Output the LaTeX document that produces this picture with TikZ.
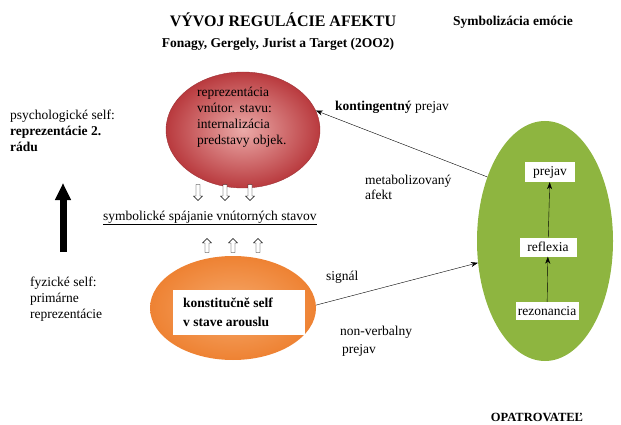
\documentclass[tikz,border=0pt]{standalone}
\usepackage{fontspec}
\setmainfont{LiberationSerif}[
    Extension=.ttf,
    UprightFont=*-Regular,
    BoldFont=*-Bold,
    ItalicFont=*-Italic,
    BoldItalicFont=*-BoldItalic]
\usepackage{xcolor}
\usetikzlibrary{arrows.meta, positioning, shapes.geometric, shapes.arrows}

\definecolor{redin}{HTML}{EBAAA8}
\definecolor{redout}{HTML}{B93A3E}
\definecolor{orangein}{HTML}{F6A86A}
\definecolor{orangeout}{HTML}{EE8233}
\definecolor{greenfill}{HTML}{8EB540}

\begin{document}
\begin{tikzpicture}[
    x=1pt, y=-1pt,
    txt/.style={anchor=west, align=left, inner sep=0pt, font=\fontsize{13.5}{16}\selectfont},
    heading/.style={inner sep=0pt, font=\bfseries\fontsize{13.5}{16}\selectfont},
    whitebox/.style={rectangle, fill=white, inner sep=0pt, font=\fontsize{13.5}{16}\selectfont},
    downarr/.style={single arrow, draw, thin, fill=white, shape border rotate=270, inner sep=1.8pt, single arrow head extend=2.5pt, minimum height=16pt},
    uparr/.style={downarr, shape border rotate=90, minimum height=14pt},
    arrow/.style={-{Stealth[length=7pt, width=5pt]}, thin},
]
\useasboundingbox (0,0) rectangle (621,425);

% Headings
\node[heading, font=\bfseries\fontsize{16}{18}\selectfont] (title) at (283,20) {VÝVOJ REGULÁCIE AFEKTU};
\node[heading] (authors) at (278,44) {Fonagy, Gergely, Jurist a Target (2OO2)};
\node[heading] (symb) at (513,22) {Symbolizácia emócie};
\node[heading, font=\bfseries\fontsize{12.5}{15}\selectfont] (carer) at (537,417) {OPATROVATEĽ};

% Ellipses
\node[ellipse, draw=redout!85!black, shading=radial, inner color=redin, outer color=redout, minimum width=154pt, minimum height=116pt] (mind) at (243,130) {};
\node[ellipse, shading=radial, inner color=orangein, outer color=orangeout, minimum width=166pt, minimum height=104pt] (body) at (233,308) {};
\node[ellipse, fill=greenfill, minimum width=136pt, minimum height=240pt] (carerell) at (545,241) {};

% Texts inside ellipses
\node[txt] (mindtxt) at (197,117.5) {reprezentácia\\vnútor. stavu:\\internalizácia\\predstavy objek.};
\node[whitebox, minimum width=132pt, minimum height=45pt] (bodybox) at (239,312) {};
\node[txt, font=\bfseries\fontsize{13.5}{19}\selectfont] (bodytxt) at (183,312) {konstitučně self\\v stave arouslu};

\node[whitebox, minimum width=50pt, minimum height=20pt] (prejav) at (550,172) {prejav};
\node[whitebox, minimum width=57pt, minimum height=19pt] (reflexia) at (548,247) {reflexia};
\node[whitebox, minimum width=63pt, minimum height=18pt] (rezonancia) at (547,311) {rezonancia};

% Side labels
\node[txt] (psych) at (10,131) {psychologické self:\\\textbf{reprezentácie 2.}\\\textbf{rádu}};
\node[txt] (fyz) at (30,299) {fyzické self:\\primárne\\reprezentácie};
\node[txt] (sym) at (103,218) {\underline{symbolické spájanie vnútorných stavov}};

% Connector labels
\node[txt] (kont) at (335,107) {\textbf{kontingentný} prejav};
\node[txt, font=\fontsize{13.5}{15}\selectfont] (metab) at (365,187.5) {metabolizovaný\\afekt};
\node[txt] (signal) at (326,277) {signál};
\node[txt, font=\fontsize{13.5}{18}\selectfont] (nonverb) at (340,341) {non-verbalny\\\hspace{2pt}prejav};

% Hollow arrows
\foreach \x [count=\i] in {198,225,250} {
    \node[downarr] (down\i) at (\x,191.5) {};
}
\foreach \x [count=\i] in {207,233,258} {
    \node[uparr] (up\i) at (\x,246.5) {};
}

% Big arrow
\coordinate (physbot) at (63,252);
\coordinate (psytop) at (63,183);
\draw[line width=7pt, -{Triangle[length=17pt, width=15pt]}] (physbot) -- (psytop);

% Connectors
\draw[arrow] (carerell.132) -- (mind.15);
\draw[arrow] (body.2) -- (carerell.198);
\draw[arrow] (rezonancia) -- (reflexia);
\draw[arrow] (reflexia) -- (prejav);

\end{tikzpicture}
\end{document}
